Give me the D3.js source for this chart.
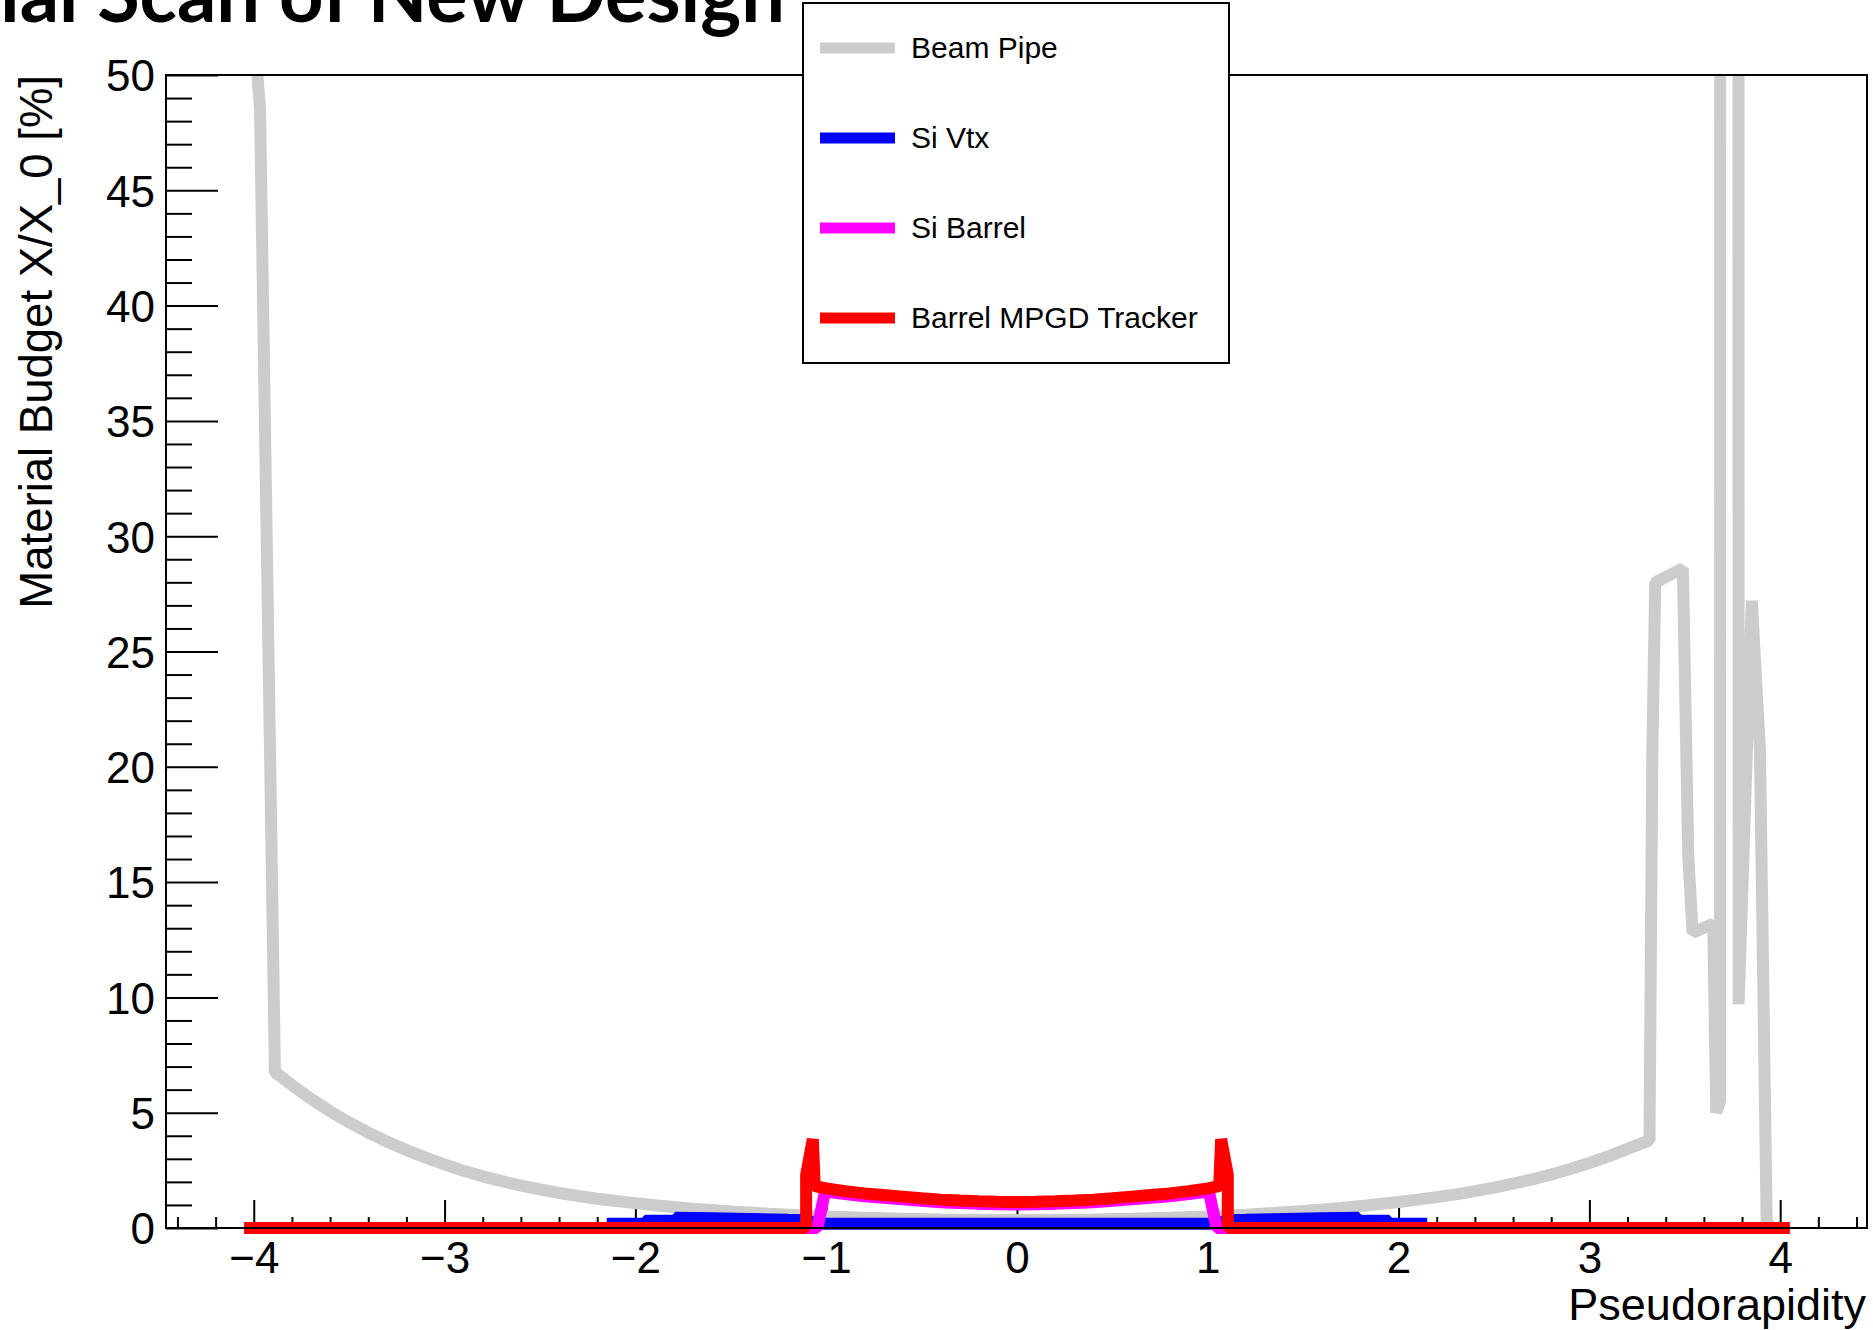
<!DOCTYPE html>
<html><head><meta charset="utf-8">
<script src="https://cdn.jsdelivr.net/npm/d3@7"></script>
<style>html,body{margin:0;padding:0;background:#fff;overflow:hidden}</style>
</head><body>
<svg id="chart" width="1873" height="1330" xmlns="http://www.w3.org/2000/svg"></svg>
<script>
// ---------------- DATA ----------------
const titleText = "Material Scan of New Design";
const xLabel = "Pseudorapidity";
const yLabel = "Material Budget X/X_0 [%]";
const seriesNames = ["Beam Pipe", "Si Vtx", "Si Barrel", "Barrel MPGD Tracker"];
const seriesColors = ["#cccccc", "#0000ff", "#ff00ff", "#ff0000"];
const xMajorTicks = [-4, -3, -2, -1, 0, 1, 2, 3, 4];
const xTickLabels = ["\u22124", "\u22123", "\u22122", "\u22121", "0", "1", "2", "3", "4"];
const yMajorTicks = [0, 5, 10, 15, 20, 25, 30, 35, 40, 45, 50];

// [pseudorapidity, X/X0 %]
const beamPipe = [
  [-4.0, 52], [-3.967, 48.5], [-3.889, 6.76], [-3.8, 6.2], [-3.7, 5.6], [-3.6, 5.06],
  [-3.5, 4.58], [-3.4, 4.14], [-3.3, 3.74], [-3.2, 3.38], [-3.1, 3.05], [-3.0, 2.76],
  [-2.9, 2.48], [-2.8, 2.24], [-2.7, 2.03], [-2.6, 1.84], [-2.5, 1.67], [-2.4, 1.52],
  [-2.3, 1.39], [-2.2, 1.27], [-2.1, 1.17], [-2.0, 1.08], [-1.9, 0.99], [-1.8, 0.91],
  [-1.7, 0.84], [-1.6, 0.78], [-1.5, 0.72], [-1.4, 0.67], [-1.3, 0.62], [-1.2, 0.58],
  [-1.1, 0.54], [-1.0, 0.5], [-0.8, 0.44], [-0.6, 0.4], [-0.4, 0.37], [-0.2, 0.355],
  [0.0, 0.35], [0.2, 0.355], [0.4, 0.37], [0.6, 0.4], [0.8, 0.44], [1.0, 0.5],
  [1.1, 0.54], [1.2, 0.58], [1.3, 0.63], [1.4, 0.68], [1.5, 0.74], [1.6, 0.8],
  [1.7, 0.87], [1.8, 0.95], [1.9, 1.04], [2.0, 1.13], [2.1, 1.23], [2.2, 1.34],
  [2.3, 1.46], [2.4, 1.6], [2.5, 1.75], [2.6, 1.92], [2.7, 2.11], [2.8, 2.32],
  [2.9, 2.56], [3.0, 2.82], [3.1, 3.11], [3.2, 3.43], [3.315, 3.8], [3.33, 20.6],
  [3.345, 28.0], [3.49, 28.6], [3.518, 16.2], [3.541, 12.8], [3.649, 13.2], [3.665, 5.0],
  [3.685, 5.5], [3.69, 300], [3.78, 300], [3.782, 9.7], [3.851, 27.2], [3.894, 20.7],
  [3.929, 0.3], [3.95, 0]
];
const siVtx = [
  [-2.15, 0.18], [-1.95, 0.18], [-1.95, 0.31], [-1.79, 0.31], [-1.79, 0.44], [-1.6, 0.42],
  [-1.4, 0.39], [-1.2, 0.36], [-1.1, 0.35], [-1.06, 0.18], [-0.5, 0.18], [0.0, 0.18],
  [0.5, 0.18], [1.06, 0.18], [1.1, 0.35], [1.2, 0.36], [1.4, 0.39], [1.6, 0.42],
  [1.79, 0.44], [1.79, 0.31], [1.95, 0.31], [1.95, 0.18], [2.15, 0.18]
];
const siBarrel = [
  [-4.05, 0], [-1.046, 0], [-1.006, 1.58], [-0.9, 1.47], [-0.8, 1.38], [-0.7, 1.31],
  [-0.6, 1.25], [-0.5, 1.18], [-0.4, 1.12], [-0.3, 1.08], [-0.2, 1.05], [-0.1, 1.03],
  [0.0, 1.02], [0.1, 1.03], [0.2, 1.05], [0.3, 1.08], [0.4, 1.12], [0.5, 1.18],
  [0.6, 1.25], [0.7, 1.31], [0.8, 1.38], [0.9, 1.47], [1.006, 1.58], [1.046, 0], [4.05, 0]
];
const mpgdTracker = [
  [-4.05, 0], [-1.105, 0], [-1.105, 2.3], [-1.07, 3.85], [-1.06, 1.82], [-1.0, 1.72],
  [-0.9, 1.6], [-0.8, 1.5], [-0.7, 1.43], [-0.6, 1.36], [-0.5, 1.29], [-0.4, 1.23],
  [-0.3, 1.19], [-0.2, 1.16], [-0.1, 1.14], [0.0, 1.13], [0.1, 1.14], [0.2, 1.16],
  [0.3, 1.19], [0.4, 1.23], [0.5, 1.29], [0.6, 1.36], [0.7, 1.43], [0.8, 1.5],
  [0.9, 1.6], [1.0, 1.72], [1.06, 1.82], [1.07, 3.85], [1.105, 2.3], [1.105, 0], [4.05, 0]
];
const seriesData = [beamPipe, siVtx, siBarrel, mpgdTracker];

// ---------------- LAYOUT ----------------
const svg = d3.select("#chart");
const L = 166, R = 1867, T = 75, B = 1228;
const x = d3.scaleLinear().domain([-4.46, 4.455]).range([L, R]);
const y = d3.scaleLinear().domain([0, 50]).range([B, T]);
const FONT = "'Liberation Sans', Arial, Helvetica, sans-serif";

svg.append("rect").attr("width", 1873).attr("height", 1330).attr("fill", "#fff");

svg.append("defs").append("clipPath").attr("id", "clip")
  .append("rect").attr("x", 0).attr("y", T).attr("width", 1873).attr("height", 1330 - T);

// axes ticks (inside)
const xMinor = d3.range(-22, 23).map(i => i * 0.2).filter(v => Math.abs(v - Math.round(v)) > 1e-6 && v > -4.46 && v < 4.455);
const yMinor = d3.range(0, 51).filter(v => v % 5 !== 0);

const gx = svg.append("g").attr("transform", `translate(0,${B})`)
  .call(d3.axisBottom(x).tickValues(xMajorTicks).tickSize(-28).tickPadding(14)
    .tickFormat((d, i) => xTickLabels[i]));
const gxm = svg.append("g").attr("transform", `translate(0,${B})`)
  .call(d3.axisBottom(x).tickValues(xMinor).tickSize(-11).tickFormat(""));
const gy = svg.append("g").attr("transform", `translate(${L},0)`)
  .call(d3.axisLeft(y).tickValues(yMajorTicks).tickSize(-52).tickPadding(11));
const gym = svg.append("g").attr("transform", `translate(${L},0)`)
  .call(d3.axisLeft(y).tickValues(yMinor).tickSize(-26).tickFormat(""));
[gx, gxm, gy, gym].forEach(g => {
  g.select(".domain").remove();
  g.selectAll(".tick line").attr("stroke", "#000").attr("stroke-width", 2);
});
gx.selectAll(".tick text").attr("font-family", FONT).attr("font-size", 44).attr("fill", "#000");
gy.selectAll(".tick text").attr("font-family", FONT).attr("font-size", 44).attr("fill", "#000").attr("dy", "0.36em");

// data lines
const line = d3.line().x(d => x(d[0])).y(d => y(d[1]));
const plot = svg.append("g").attr("clip-path", "url(#clip)");
seriesData.forEach((data, i) => {
  plot.append("path").datum(data)
    .attr("d", line)
    .attr("fill", "none")
    .attr("stroke", seriesColors[i])
    .attr("stroke-width", 12)
    .attr("stroke-linejoin", "bevel")
    .attr("stroke-linecap", "butt");
});

// frame
svg.append("rect").attr("x", L).attr("y", T).attr("width", R - L).attr("height", B - T)
  .attr("fill", "none").attr("stroke", "#000").attr("stroke-width", 2);

// axis titles
svg.append("text").attr("x", 1866).attr("y", 1320).attr("text-anchor", "end")
  .attr("font-family", FONT).attr("font-size", 45).attr("fill", "#000").text(xLabel);
svg.append("text").attr("transform", "translate(52,75) rotate(-90)").attr("text-anchor", "end")
  .attr("font-family", FONT).attr("font-size", 45.5).attr("fill", "#000").text(yLabel);

// legend
const lg = svg.append("g");
lg.append("rect").attr("x", 803).attr("y", 3).attr("width", 426).attr("height", 360)
  .attr("fill", "#fff").attr("stroke", "#000").attr("stroke-width", 2);
const legendY = d3.scalePoint().domain(seriesNames).range([48, 318]);
seriesNames.forEach((name, i) => {
  const cy = legendY(name);
  lg.append("line").attr("x1", 820).attr("x2", 895).attr("y1", cy).attr("y2", cy)
    .attr("stroke", seriesColors[i]).attr("stroke-width", 11);
  lg.append("text").attr("x", 911).attr("y", cy + 10).attr("font-family", FONT)
    .attr("font-size", 30).attr("fill", "#000").text(name);
});

// title (partially off-canvas, as in the original slide crop)
const TF = "Lato, 'Open Sans', sans-serif";
const probe = svg.append("text").attr("font-family", TF).attr("font-weight", 700)
  .attr("font-size", 100).text("Scan of New Design");
const w = probe.node().getComputedTextLength();
probe.remove();
const fs = 100 * 688 / w;
svg.append("text").attr("x", 785).attr("y", 22).attr("text-anchor", "end")
  .attr("font-family", TF).attr("font-weight", 700).attr("font-size", fs)
  .attr("fill", "#000").text(titleText);
</script>
</body></html>
